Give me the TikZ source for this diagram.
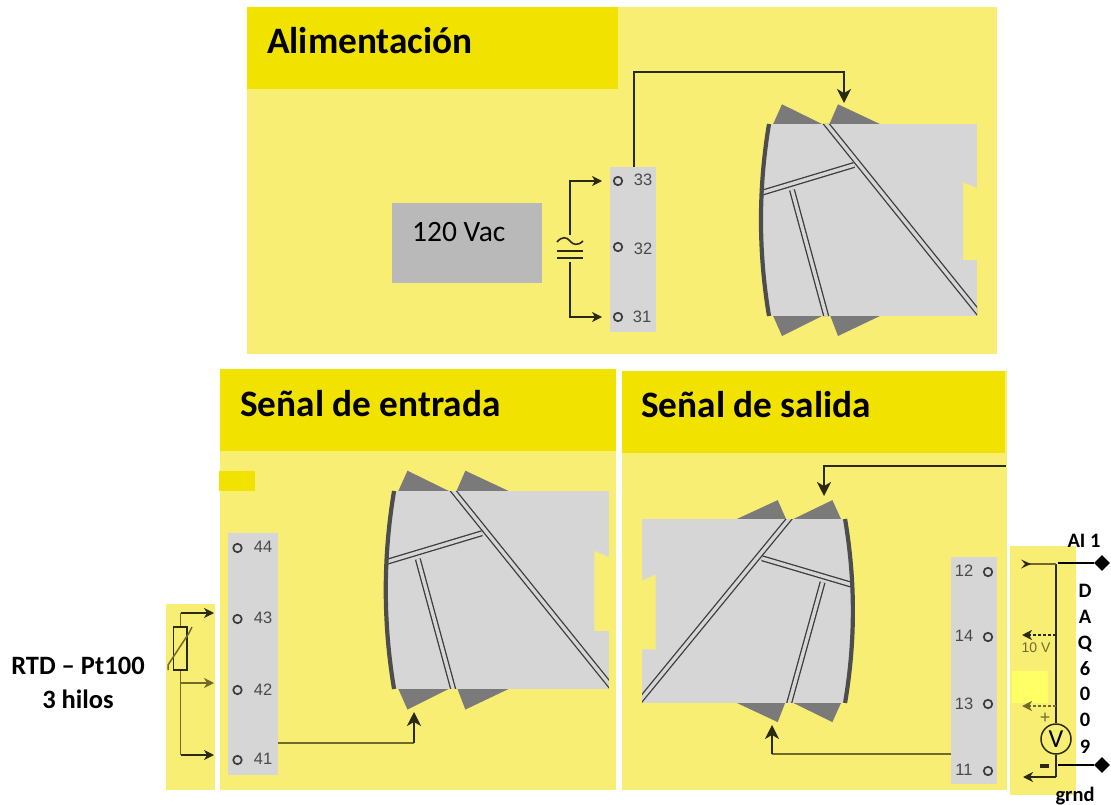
\documentclass[tikz,border=0pt]{standalone}
\usepackage{fontspec}
\setmainfont{Carlito}
\newfontfamily\termfont{Liberation Sans}
\usetikzlibrary{arrows.meta,shapes.geometric}
\definecolor{panelY}{HTML}{F9EE74}
\definecolor{headY}{HTML}{F2E200}
\definecolor{brightY}{HTML}{FFFF66}
\definecolor{bodyG}{HTML}{D6D6D6}
\definecolor{wingG}{HTML}{7A7A7A}
\definecolor{edgeG}{HTML}{4D4D4D}
\definecolor{grooveG}{HTML}{3C3C3C}
\definecolor{wireK}{HTML}{2A2A10}
\definecolor{wireO}{HTML}{6F6B2C}
\definecolor{termT}{HTML}{4A4A4A}
\definecolor{sourceG}{HTML}{B9B9B9}
\tikzset{
  head/.style={fill=headY,draw=none},
  termstrip/.style={fill=bodyG,draw=none},
  hole/.style={circle,draw=grooveG,line width=1.7pt,fill=none,minimum size=8.5pt,inner sep=0},
  termlabel/.style={text=termT,font=\termfont\fontsize{16.5}{16.5}\selectfont,inner sep=0},
  title/.style={anchor=base west,inner sep=0,font=\bfseries\fontsize{37.3}{37.3}\selectfont},
  boldlabel/.style={inner sep=0,font=\bfseries\fontsize{26.5}{26.5}\selectfont},
  daq/.style={inner sep=0,font=\bfseries\fontsize{20.5}{20.5}\selectfont},
  wire/.style={draw=wireK,line width=1.5pt},
  wirearrow/.style={wire,-{Stealth[length=14pt,width=14pt,inset=4pt]}},
  smallarrow/.style={wire,-{Stealth[length=10pt,width=10pt,inset=3pt]}},
  groove/.style={draw=grooveG,line width=1.3pt,double=bodyG,double distance=3.4pt},
  pin/.style={diamond,fill=black,draw=none,minimum size=16pt,inner sep=0},
}
\newcommand{\moduleshape}[4]{%
  \begin{scope}[shift={(#1,#2)},xscale=#3,yscale=#4]
    \fill[wingG] (5.7,1) -- (15,-19.7) -- (57,1) -- cycle;
    \fill[wingG] (62,1) -- (71,-19.7) -- (115,1) -- cycle;
    \fill[wingG] (5.7,191) -- (15,212) -- (57,191) -- cycle;
    \fill[wingG] (63,191) -- (71,212) -- (115,191) -- cycle;
    \begin{scope}
      \path[clip] (2,0) .. controls (-8.7,64) and (-8.7,128) .. (2,192)
        -- (210,192) -- (210,136) -- (196,136) -- (196,58) -- (210,64) -- (210,0) -- cycle;
      \fill[bodyG] (-12,0) rectangle (210,192);
      \draw[groove] (25,66) -- (60,195);
      \draw[groove] (-6,69) -- (87,41);
      \draw[groove] (57,-3) -- (214,192);
    \end{scope}
    \draw[edgeG,line width=4.2pt] (2,0) .. controls (-8.7,64) and (-8.7,128) .. (2,192);
  \end{scope}}
\begin{document}
\begin{tikzpicture}[x=1pt,y=-1pt]
\useasboundingbox (0,0) rectangle (1111,805);
% panels
\fill[panelY] (247,7) rectangle (997,354);
\fill[head] (247,7) rectangle (618,89);
\fill[panelY] (220,369) rectangle (616,790);
\fill[head] (220,369) rectangle (616,451);
\fill[head] (219,471) rectangle (255,491);
\fill[panelY] (622,371) rectangle (1007,790);
\fill[head] (622,371) rectangle (1005,453);
\fill[panelY] (166,604) rectangle (215,790);
\fill[panelY] (1010,546) rectangle (1076,795);
\fill[brightY] (1012,671) rectangle (1048,703);
% titles
\node[title] (tA) at (267,53.5) {Alimentación};
\node[title] (tE) at (240,416) {Señal de entrada};
\node[title] (tS) at (641,417) {Señal de salida};
% modules
\moduleshape{767}{124}{1}{1}
\moduleshape{392}{491}{1.033}{1.031}
\moduleshape{847}{519}{-0.976}{0.958}
% source
\node[fill=sourceG,minimum width=150pt,minimum height=80pt,inner sep=0] (src) at (467,243) {};
\node[inner sep=0,anchor=base west,font=\fontsize{29.5}{29.5}\selectfont] (srcT) at (412,241) {120 Vac};
% terminal strips
\node[termstrip,minimum width=46pt,minimum height=165pt,inner sep=0] (stripA) at (633,249.5) {};
\node[termstrip,minimum width=50pt,minimum height=242pt,inner sep=0] (stripE) at (253,654) {};
\node[termstrip,minimum width=46pt,minimum height=227pt,inner sep=0] (stripS) at (974,670.5) {};
% holes and numbers
\node[hole] (h33) at (618,181) {}; \node[termlabel] (l33) at (643,180) {33};
\node[hole] (h32) at (618,247) {}; \node[termlabel] (l32) at (643,249) {32};
\node[hole] (h31) at (618,317) {}; \node[termlabel] (l31) at (642,317) {31};
\node[hole] (h44) at (237.5,548) {}; \node[termlabel] (l44) at (263,547) {44};
\node[hole] (h43) at (237.5,619) {}; \node[termlabel] (l43) at (263,618) {43};
\node[hole] (h42) at (237.5,690) {}; \node[termlabel] (l42) at (263,690) {42};
\node[hole] (h41) at (237.5,760) {}; \node[termlabel] (l41) at (263,759) {41};
\node[hole] (h12) at (988,572) {}; \node[termlabel] (l12) at (964,571) {12};
\node[hole] (h14) at (988,637) {}; \node[termlabel] (l14) at (964,636) {14};
\node[hole] (h13) at (988,704) {}; \node[termlabel] (l13) at (964,704) {13};
\node[hole] (h11) at (988,771) {}; \node[termlabel] (l11) at (964,770) {11};
% power wiring
\coordinate (a1) at (634,167);
\coordinate (a2) at (844,103);
\draw[wirearrow] (a1) -- (634,72) -- (844,72) -- (a2);
\coordinate (acT) at (570,235);
\coordinate (acB) at (570,262);
\draw[smallarrow] (acT) -- (570,181) -- (602,181);
\draw[smallarrow] (acB) -- (570,317) -- (602,317);
\draw[wire,line width=1.6pt] (557,242) .. controls (562,236) and (567,237) .. (570,241) .. controls (573,245) and (578,246) .. (583,241);
\draw[wire,line width=1.6pt] (557,251) -- (583,251);
\draw[wire,line width=1.6pt] (557,258) -- (583,258);
% input wiring
\coordinate (e2) at (414,712);
\draw[wire,draw=wireO] (278,743) -- (414,743);
\draw[wirearrow] (414,743) -- (e2);
% RTD
\coordinate (rT) at (180.5,613);
\coordinate (rM) at (180.5,683);
\coordinate (rB) at (180.5,755);
\draw[wire,draw=wireO] (rT) -- (rB);
\draw[smallarrow] (rT) -- (214,613);
\draw[smallarrow,draw=wireO] (rM) -- (214,683);
\draw[smallarrow] (rB) -- (214,755);
\draw[wire,fill=panelY,line width=1.4pt] (173.5,627) rectangle (187,670);
\draw[wire,draw=wireO] (168,670) -- (168,665) -- (189,633) -- (192,627);
\node[boldlabel] (rtd1) at (78,666) {RTD – Pt100};
\node[boldlabel] (rtd2) at (78,699) {3 hilos};
% output wiring
\coordinate (s1) at (1006,466);
\coordinate (s2) at (824,496);
\draw[wirearrow] (s1) -- (824,466) -- (s2);
\coordinate (s3) at (772,725);
\draw[wire,draw=wireO,line width=1.8pt] (951,754) -- (772,754);
\draw[wirearrow] (772,754) -- (s3);
% DAQ side
\node[circle,draw=wireK,line width=1.5pt,minimum size=30pt,inner sep=0,fill=panelY,font=\fontsize{26}{26}\selectfont] (vm) at (1056,739) {V};
\draw[wire] (1056,564) -- (vm.north);
\draw[wire] (vm.south) -- (1056,777);
\draw[wire,draw=wireO] (1056,564) -- (1025,564);
\fill[wireK] (1021,559.5) -- (1031,564) -- (1021,568.5) -- (1025,564) -- cycle;
\draw[smallarrow,densely dashed] (1056,635) -- (1022,635);
\draw[smallarrow,densely dashed,draw=wireO] (1056,706) -- (1022,706);
\draw[smallarrow] (1056,777) -- (1023,777);
\node[inner sep=0,text=wireO,font=\termfont\fontsize{14}{14}\selectfont] (tenV) at (1036,648) {10 V};
\node[inner sep=0,text=wireO,font=\termfont\fontsize{18}{18}\selectfont] (plus) at (1045,718) {+};
\fill[wireK] (1040,764) rectangle (1049,767.5);
% DAQ pins
\node[pin] (ai) at (1102,563) {};
\node[pin] (gnd) at (1102,765) {};
\coordinate (aiL) at (1058,563);
\coordinate (gndL) at (1058,765);
\draw[black,line width=1.4pt] (aiL) -- (ai);
\draw[black,line width=1.4pt] (gndL) -- (gnd);
\node[daq] (aiT) at (1084,541) {AI 1};
\node[daq] (d1) at (1085,591) {D};
\node[daq] (d2) at (1085,617) {A};
\node[daq] (d3) at (1085,644) {Q};
\node[daq] (d4) at (1085,669) {6};
\node[daq] (d5) at (1085,694) {0};
\node[daq] (d6) at (1085,720) {0};
\node[daq] (d7) at (1085,747) {9};
\node[daq] (gT) at (1075,796) {grnd};
\end{tikzpicture}
\end{document}
